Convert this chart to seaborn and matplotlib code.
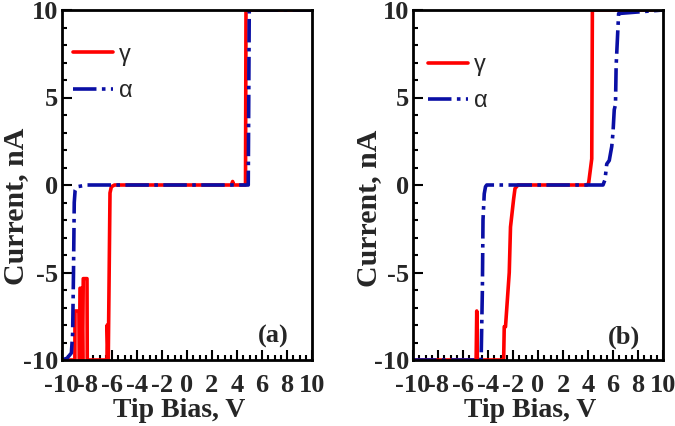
import numpy as np
import pandas as pd
import seaborn as sns
import matplotlib
matplotlib.use("Agg")
import matplotlib.pyplot as plt
from matplotlib.ticker import MultipleLocator

# panel (a)
a_gamma_x = [-10, -8.97, -8.96, -8.65, -8.6, -8.56, -8.43, -8.35, -8.3, -8.0, -7.98,
             -6.45, -6.4, -6.38, -6.3, -6.16, -6.05, -5.8, 3.55, 3.65, 3.75, 4.68, 4.72, 10]
a_gamma_y = [-10, -10, -7.2, -7.2, -10, -5.9, -5.9, -10, -5.35, -5.35, -10,
             -10, -10, -8.0, -10, -0.45, -0.1, 0, 0, 0.2, 0, 0, 10, 10]
a_alpha_x = [-10, -9.6, -9.25, -9.15, -9.08, -9.02, -8.95, -8.8, -8.0, 4.9, 4.98, 10]
a_alpha_y = [-10, -9.9, -9.6, -8.5, -5, -1, -0.3, -0.1, 0, 0, 10, 10]

# panel (b)
b_gamma_x = [-10, -4.95, -4.9, -4.85, -2.85, -2.75, -2.7, -2.6, -2.3, -2.2, -1.95, -1.84,
             -1.6, 3.9, 4.05, 4.3, 4.35, 10]
b_gamma_y = [-10, -10, -7.2, -10, -10, -10, -8.1, -8.1, -5, -2.4, -0.8, -0.2,
             0, 0, 0.1, 1.5, 10, 10]
b_alpha_x = [-10, -4.55, -4.45, -4.4, -4.3, -4.2, -4.1, -3.6, 5.2, 5.36, 5.5, 5.7, 5.9,
             6.0, 6.1, 6.2, 6.25, 6.45, 10]
b_alpha_y = [-10, -10, -6, -2, -0.5, -0.1, 0, 0, 0, 0.3, 1.2, 1.4, 2.2,
             3.0, 4.3, 4.6, 6.8, 9.8, 10]

x_ticks = list(range(-10, 11, 2))
y_ticks = [-10, -5, 0, 5, 10]

sns.set_style("white")
plt.rcParams["font.family"] = ["Liberation Serif", "DejaVu Serif"]
plt.rcParams["font.weight"] = "bold"
plt.rcParams["axes.unicode_minus"] = False

fig = plt.figure(figsize=(6.75, 4.26), dpi=100)
ax1 = fig.add_axes([62 / 675, 66 / 426, 250 / 675, 350 / 426])
ax2 = fig.add_axes([413 / 675, 66 / 426, 250 / 675, 350 / 426])

red = "#FF0000"
blue = "#0A0FA5"
dash = (0, (6.5, 1.5, 1.0, 1.5))

panels = [
    (ax1, a_gamma_x, a_gamma_y, a_alpha_x, a_alpha_y, "(a)", (0.045, 0.904), (-0.131, 0.439), 0.47),
    (ax2, b_gamma_x, b_gamma_y, b_alpha_x, b_alpha_y, "(b)", (0.058, 0.874), (-0.122, 0.432), 0.468),
]

for ax, gx, gy, ax_, ay, tag, leg_pos, ylab_xy, xlab_x in panels:
    sns.lineplot(x=gx, y=gy, ax=ax, color=red, lw=2.6, sort=False, estimator=None, label="γ")
    sns.lineplot(x=ax_, y=ay, ax=ax, color=blue, lw=2.6, sort=False, estimator=None,
                 label="α", linestyle=dash)
    ax.set_xlim(-10, 10)
    ax.set_ylim(-10, 10)
    ax.set_xticks(x_ticks)
    ax.set_yticks(y_ticks)
    ax.xaxis.set_minor_locator(MultipleLocator(0.5))
    ax.yaxis.set_minor_locator(MultipleLocator(1))
    ax.tick_params(axis="both", which="both", direction="in", bottom=True, left=True,
                   top=False, right=False, color="black")
    ax.tick_params(axis="both", which="major", length=7, width=1.5, labelsize=19)
    ax.tick_params(axis="both", which="minor", length=3.5, width=1.5)
    ax.tick_params(axis="x", which="major", pad=10)
    ax.tick_params(axis="y", which="major", pad=3)
    for lab in ax.get_xticklabels() + ax.get_yticklabels():
        lab.set_fontweight("bold")
    for sp in ax.spines.values():
        sp.set_linewidth(2)
        sp.set_color("black")
    ax.set_xlabel("Tip Bias, V", fontsize=20, fontweight="bold")
    ax.set_ylabel("Current, nA", fontsize=21.5, fontweight="bold")
    ax.xaxis.set_label_coords(xlab_x, -0.109)
    ax.yaxis.set_label_coords(*ylab_xy)
    ax.text(0.845, 0.066, tag, transform=ax.transAxes, ha="center", va="center",
            fontsize=19, fontweight="bold")
    leg = ax.legend(loc="upper left", bbox_to_anchor=leg_pos, frameon=False,
                    borderpad=0, borderaxespad=0, handlelength=1.7, handletextpad=0.25,
                    labelspacing=0.6,
                    prop={"family": "Liberation Sans", "size": 17, "weight": "normal"})

fig.savefig("out.png", dpi=100)
